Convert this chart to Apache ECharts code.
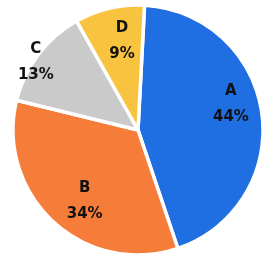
<!DOCTYPE html>
<html>
<head>
<meta charset="utf-8">
<script src="https://cdn.jsdelivr.net/npm/echarts@6/dist/echarts.min.js"></script>
<style>
  html, body { margin: 0; padding: 0; background: #fff; }
  #chart { width: 262px; height: 259px; }
</style>
</head>
<body>
<div id="chart"></div>
<script>
/* 数据 */
const categories = ['A', 'B', 'C', 'D'];
const values = [44, 34, 13, 9];
const colors = ['#1f6fe3', '#f67c3a', '#cacaca', '#f8c33f'];

// 标签位置微调 (dx, dy)
const labelShift = [[28, -17], [-9, 23], [-50, -28], [-1, -25]];

const chart = echarts.init(document.getElementById('chart'));

chart.setOption({
  backgroundColor: '#fff',
  animation: false,
  series: [
    {
      type: 'pie',
      center: [138, 130],
      radius: [0, 125],
      startAngle: 87,
      clockwise: true,
      itemStyle: {
        borderColor: '#fff',
        borderWidth: 3.5
      },
      label: {
        show: true,
        position: 'inside',
        formatter: '{b}\n{c}%',
        color: '#111',
        fontWeight: 'bold',
        fontSize: 15,
        lineHeight: 26,
        fontFamily: 'DejaVu Sans'
      },
      labelLine: { show: false },
      labelLayout: function (params) {
        const s = labelShift[params.dataIndex];
        return { dx: s[0], dy: s[1] };
      },
      data: categories.map(function (name, i) {
        return { name: name, value: values[i], itemStyle: { color: colors[i] } };
      })
    }
  ]
});
</script>
</body>
</html>
